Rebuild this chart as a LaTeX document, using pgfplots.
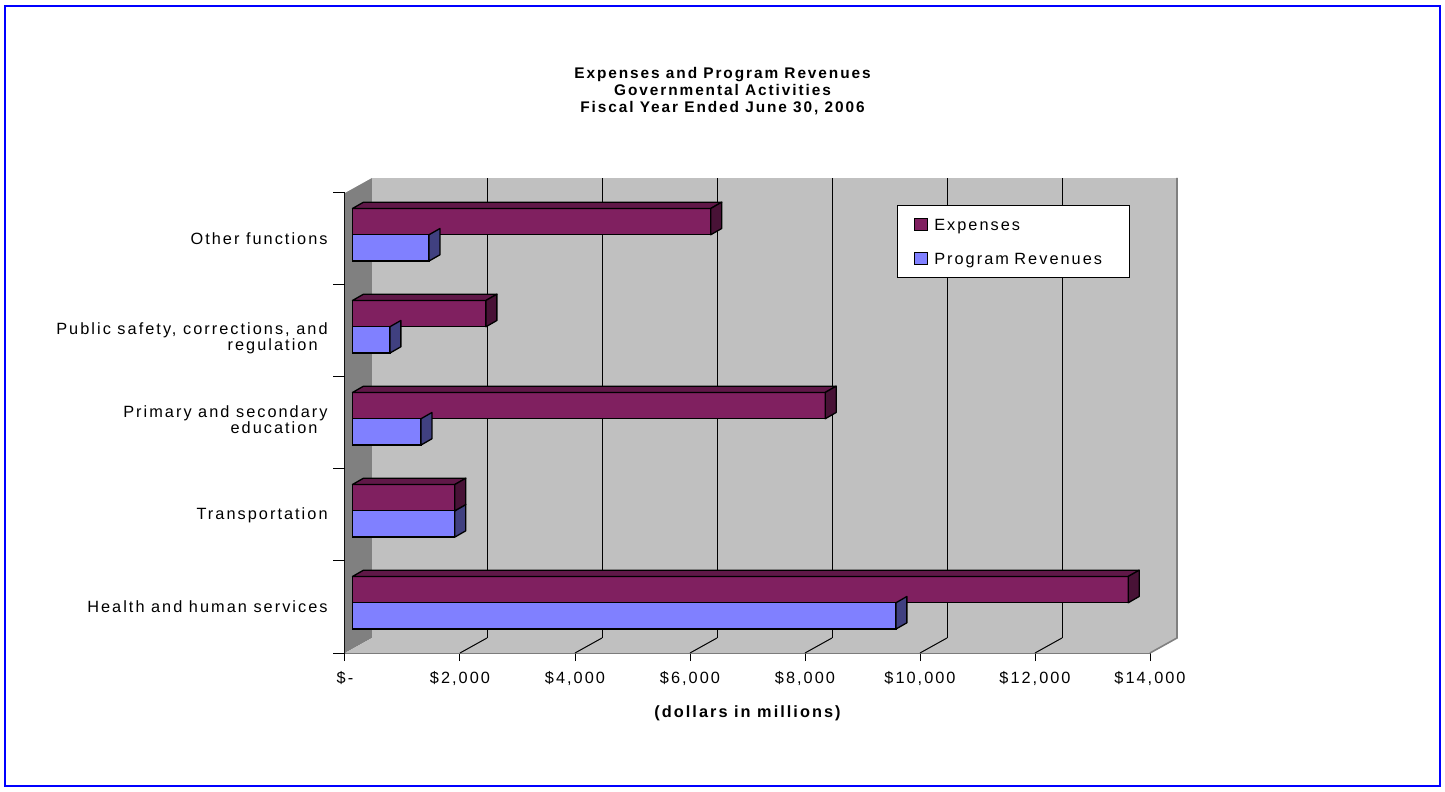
\documentclass[border=0pt]{standalone}
\usepackage{fontspec}
\setmainfont{Liberation Sans}[LetterSpace=12.5]
\usepackage{pgfplots}
\usepackage{pgfplotstable}
\pgfplotsset{compat=1.18}
\definecolor{expfront}{RGB}{128,32,96}
\definecolor{exptop}{RGB}{96,24,72}
\definecolor{expside}{RGB}{72,18,54}
\definecolor{revfront}{RGB}{128,128,255}
\definecolor{revside}{RGB}{64,64,128}
\definecolor{wallgray}{RGB}{192,192,192}
\definecolor{sidegray}{RGB}{128,128,128}
\pgfdeclareplotmark{nothing}{}
\newcommand{\lab}{\fontsize{8.15}{9.4}\selectfont}
\pgfplotstableread{
k exp rev
0 13490 9450
1 1780 1780
2 8220 1190
3 2320 650
4 6230 1330
}\data
\begin{document}
\begin{tikzpicture}
\path[use as bounding box] (-172.5pt,-69.5pt) rectangle (550pt,326.5pt);
\begin{axis}[at={(0pt,0pt)}, anchor=south west,
  x=0.02875pt, y=46pt,
  xmin=-130.4, xmax=13869.6, ymin=-0.5457, ymax=4.4543,
  clip=false, scaled x ticks=false,
  axis x line*=bottom, axis y line*=left,
  x axis line style={draw=black!55, line width=1pt},
  y axis line style={draw=black, line width=0.5pt},
  tick align=outside, major tick length=4pt,
  xtick={-130.4,1869.6,3869.6,5869.6,7869.6,9869.6,11869.6,13869.6},
  xticklabels={{\$-},{\$2,000},{\$4,000},{\$6,000},{\$8,000},{\$10,000},{\$12,000},{\$14,000}},
  xtick style={draw=black, line width=0.5pt},
  xticklabel style={font=\lab, anchor=base, yshift=-11.1pt},
  ytick={-0.0457,0.9543,1.9869,2.8728,3.9543},
  yticklabels={{Health and human services},{Transportation},{Primary and secondary\\education\hspace*{5pt}},{Public safety, corrections, and\\regulation\hspace*{5pt}},{Other functions}},
  ytick style={draw=none},
  yticklabel style={font=\fontsize{8.15}{7.9}\selectfont, align=right, anchor=east, inner sep=0pt, xshift=-4.5pt},
  xlabel={(dollars in millions)},
  xlabel style={at={(axis description cs:0.5,-0.1409)}, anchor=base, font=\lab\bfseries, inner sep=0pt},
  title={Expenses and Program Revenues\\Governmental Activities\\Fiscal Year Ended June 30, 2006},
  title style={at={(axis description cs:0.469,1.2489)}, anchor=north, align=center, inner sep=0pt, font=\bfseries\fontsize{7.7}{8.5}\selectfont},
  reverse legend, legend cell align=left,
  legend style={at={(0.6853,0.9739)}, anchor=north west, draw=black, line width=0.6pt, fill=white,
    inner xsep=0pt, inner ysep=0.7pt, row sep=0pt, column sep=0pt, font=\lab,
    nodes={inner xsep=1pt, inner ysep=0pt, text width=96.7pt, align=left}},
]
% walls
\fill[wallgray] (axis cs:339.2,-0.3826) rectangle (axis cs:14339.2,4.6174);
\fill[sidegray] (axis cs:-130.4,-0.5457) -- (axis cs:339.2,-0.3826) -- (axis cs:339.2,4.6174) -- (axis cs:-130.4,4.4543) -- cycle;
\fill[wallgray] (axis cs:-130.4,-0.5457) -- (axis cs:13869.6,-0.5457) -- (axis cs:14339.2,-0.3826) -- (axis cs:339.2,-0.3826) -- cycle;
\pgfplotsinvokeforeach{1,...,6}{
  \draw[black, line width=0.5pt] (axis cs:{339.2+2000*#1},-0.3826) -- (axis cs:{339.2+2000*#1},4.6174);
  \draw[black, line width=0.5pt] (axis cs:{-130.4+2000*#1},-0.5457) -- (axis cs:{339.2+2000*#1},-0.3826);
}
\draw[black!50, line width=0.8pt] (axis cs:14339.2,4.6174) -- (axis cs:14339.2,-0.3826) -- (axis cs:13869.6,-0.5457);
\pgfplotsinvokeforeach{0,...,5}{
  \draw[black, line width=0.5pt] (axis cs:-130.4,{-0.5457+#1}) -- ++(-6pt,0pt);
}
% revenue bars
\addplot[xbar, bar width=13.15pt, bar shift=-6.575pt, fill=revfront, draw=black, line width=0.65pt,
  legend image code/.code={\path[draw=none, fill=none] (0pt,-7.74pt) rectangle (17.5pt,9.46pt);
    \fill[revfront] (8.5pt,-2.14pt) rectangle (15pt,3.86pt);
    \draw[black, fill=none, line width=0.6pt] (8.5pt,-2.14pt) rectangle (15pt,3.86pt);}]
  table[x=rev, y=k] {\data};
\addlegendentry{Program Revenues}
\addplot[forget plot, scatter, only marks, mark=nothing, point meta=x,
  scatter/@pre marker code/.code={%
    \filldraw[fill=revside, draw=black, line width=0.65pt, line join=round]
      (0pt,-13.15pt) -- (0pt,0pt) -- (5.5pt,3.15pt) -- (5.5pt,-10pt) -- cycle;},
  scatter/@post marker code/.code={}]
  table[x=rev, y=k] {\data};
% expense bars
\addplot[xbar, bar width=13.15pt, bar shift=6.575pt, fill=expfront, draw=black, line width=0.65pt,
  legend image code/.code={\path[draw=none, fill=none] (0pt,-7.74pt) rectangle (17.5pt,9.46pt);
    \fill[expfront] (8.5pt,-2.14pt) rectangle (15pt,3.86pt);
    \draw[black, fill=none, line width=0.6pt] (8.5pt,-2.14pt) rectangle (15pt,3.86pt);}]
  table[x=exp, y=k] {\data};
\addlegendentry{Expenses}
\addplot[forget plot, scatter, only marks, mark=nothing, point meta=x,
  visualization depends on={\thisrow{exp}*0.02875 \as \barlen},
  scatter/@pre marker code/.code={%
    \filldraw[fill=exptop, draw=black, line width=0.65pt, line join=round]
      ({-\barlen pt},13.15pt) -- (0pt,13.15pt) -- (5.5pt,16.3pt) -- ({-\barlen pt+5.5pt},16.3pt) -- cycle;
    \filldraw[fill=expside, draw=black, line width=0.65pt, line join=round]
      (0pt,0pt) -- (0pt,13.15pt) -- (5.5pt,16.3pt) -- (5.5pt,3.15pt) -- cycle;},
  scatter/@post marker code/.code={}]
  table[x=exp, y=k] {\data};
\end{axis}
\draw[blue, line width=1pt] (-170pt,323.35pt) rectangle (547.5pt,-66.5pt);
\end{tikzpicture}
\end{document}
